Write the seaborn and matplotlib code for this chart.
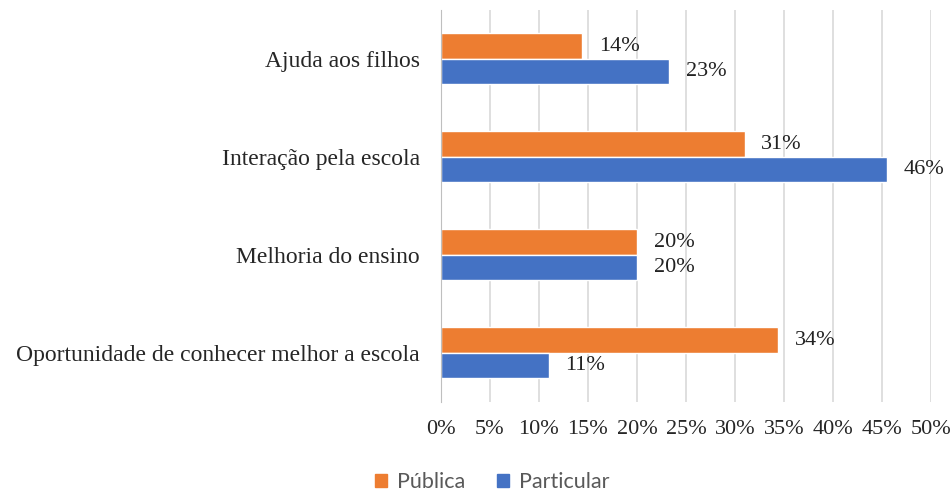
import pandas as pd
import matplotlib.pyplot as plt
import seaborn as sns

# dados
categorias = ["Ajuda aos filhos", "Interação pela escola", "Melhoria do ensino",
              "Oportunidade de conhecer melhor a escola"]
publica = [14.4, 31.0, 20.0, 34.4]
particular = [23.3, 45.5, 20.0, 11.0]
series = ["Pública", "Particular"]
cores = ["#ED7D31", "#4472C4"]
ticks_x = [0, 5, 10, 15, 20, 25, 30, 35, 40, 45, 50]

df = pd.DataFrame({
    "categoria": categorias * 2,
    "valor": publica + particular,
    "serie": [series[0]] * 4 + [series[1]] * 4,
})

sns.set_style("white")
plt.rcParams["font.family"] = ["Liberation Serif", "DejaVu Serif"]

fig = plt.figure(figsize=(9.52, 4.93), dpi=100)
ax = fig.add_axes([0.463, 0.185, 0.515, 0.795])

sns.barplot(data=df, y="categoria", x="valor", hue="serie", order=categorias,
            hue_order=series, palette=cores, orient="h", width=0.52,
            saturation=1, legend=False, ax=ax)

for cont in ax.containers:
    ax.bar_label(cont, labels=[f"{v:.0f}%" for v in cont.datavalues],
                 padding=12, fontsize=16, color="#222222")

ax.set_xlim(0, 50)
ax.set_ylim(3.5, -0.5)
ax.set_xticks(ticks_x)
ax.set_xticklabels([f"{t}%" for t in ticks_x], fontsize=16)
ax.tick_params(axis="x", length=0, pad=13)
ax.tick_params(axis="y", length=0, pad=15, labelsize=17)
ax.set_xlabel("")
ax.set_ylabel("")
ax.grid(axis="x", color="#D9D9D9", linewidth=1.2)
ax.set_axisbelow(True)
for s in ["top", "right", "bottom"]:
    ax.spines[s].set_visible(False)
ax.spines["left"].set_color("#BFBFBF")

handles = [plt.Rectangle((0, 0), 1, 1, color=c) for c in cores]
leg = fig.legend(handles, series, loc="center", bbox_to_anchor=(0.517, 0.022),
                 ncol=2, frameon=False, handlelength=0.55, handleheight=0.55,
                 columnspacing=1.5, handletextpad=0.45,
                 prop={"family": "Lato", "size": 15.5})
for t in leg.get_texts():
    t.set_color("#595959")

fig.savefig("out.png", dpi=100)
